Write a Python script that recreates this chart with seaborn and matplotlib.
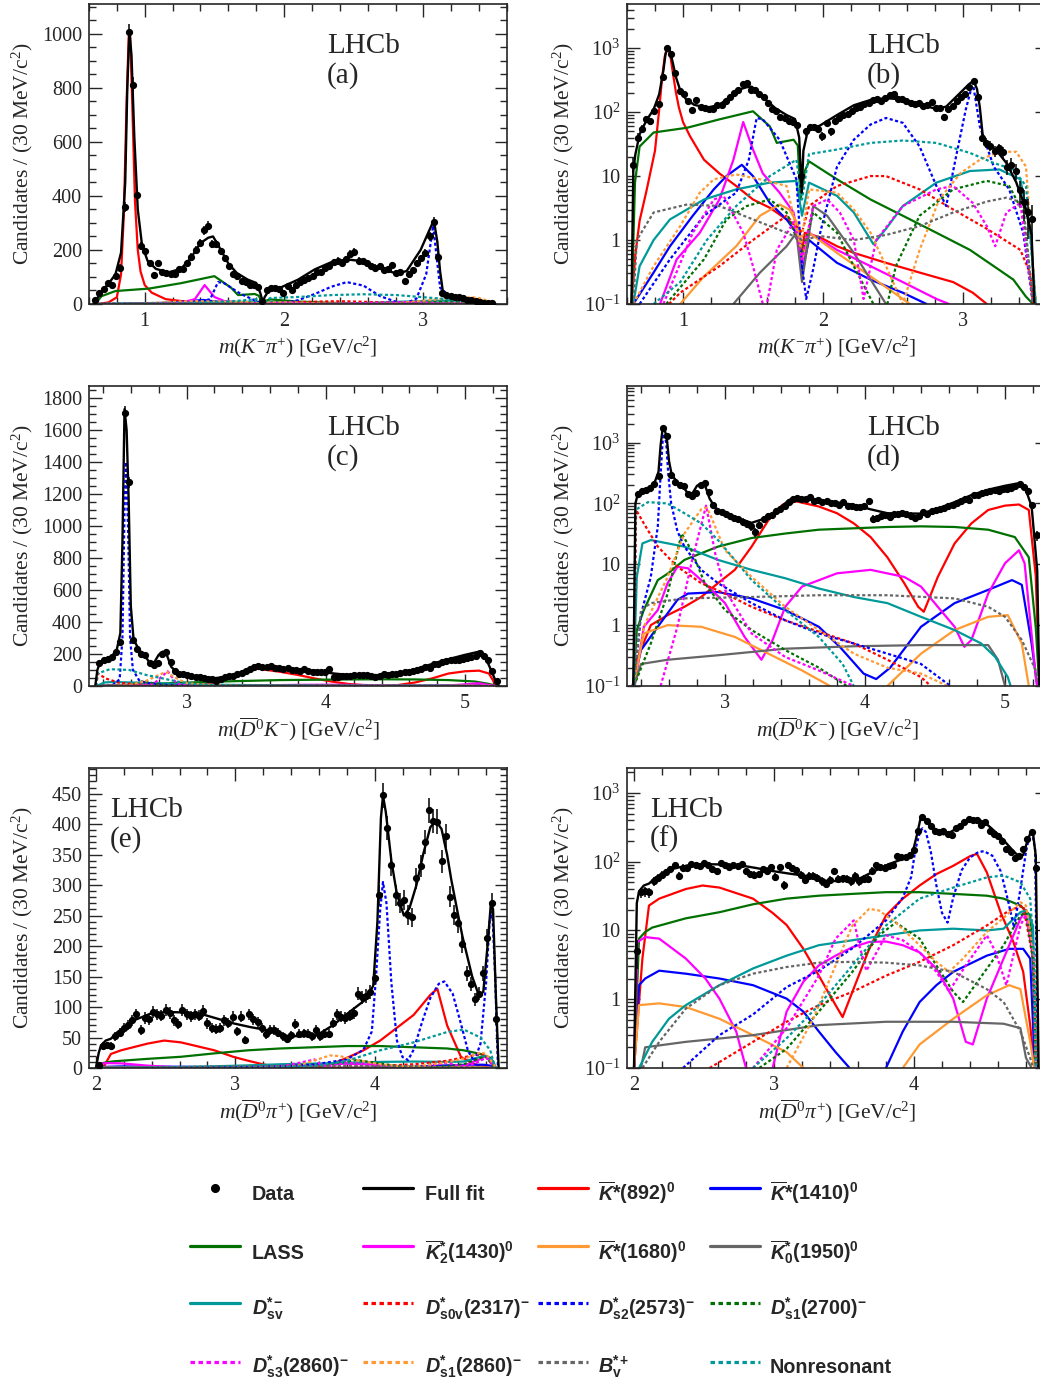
import numpy as np
import matplotlib
matplotlib.use("Agg")
import matplotlib.pyplot as plt
from matplotlib.lines import Line2D
from matplotlib.ticker import MultipleLocator, FixedLocator, FixedFormatter, LogLocator, NullFormatter
import pandas as pd
import seaborn as sns

# ---------------------------------------------------------------- data
BIN_W = 0.03

# m(K- pi+) row
KPI_START = 0.645
KPI_DATA = [15, 40, 55, 78, 72, 105, 135, 360, 1005, 812, 405, 215, 195, 150, 107, 152,
            120, 115, 110, 112, 128, 130, 150, 175, 200, 225, 272, 290, 222, 222, 195, 170,
            140, 110, 105, 85, 80, 72, 70, 62, 10, 50, 58, 58, 55, 42, 68, 50,
            72, 80, 90, 95, 105, 118, 120, 135, 140, 155, 160, 150, 165, 185, 192, 160,
            158, 150, 140, 135, 140, 125, 130, 145, 115, 118, 85, 112, 125, 150, 170, 190,
            250, 305, 175, 40, 33, 30, 25, 27, 24, 14, 15, 12, 6, 4, 2.7, 2.1]
KPI_FIT = [(0.632, 0.1), (0.645, 12), (0.66, 22), (0.69, 45), (0.74, 75), (0.79, 110), (0.83, 190),
           (0.86, 450), (0.875, 800), (0.89, 1010), (0.905, 920), (0.925, 620), (0.95, 350),
           (0.98, 220), (1.02, 160), (1.08, 130), (1.17, 117), (1.26, 130), (1.33, 170), (1.40, 225),
           (1.455, 245), (1.49, 250), (1.53, 215), (1.60, 150), (1.66, 115), (1.74, 90), (1.80, 78),
           (1.83, 40), (1.848, 5.5), (1.86, 25), (1.89, 50), (1.98, 62), (2.10, 90), (2.22, 128),
           (2.34, 155), (2.45, 165), (2.57, 158), (2.69, 132), (2.81, 112), (2.88, 122), (2.98, 200),
           (3.04, 270), (3.075, 310), (3.10, 230), (3.12, 120), (3.14, 45), (3.17, 32), (3.24, 25),
           (3.31, 16), (3.38, 8), (3.45, 3), (3.49, 1.2), (3.51, 0.1)]
KPI_K892 = [(0.632, 0.1), (0.66, 0.6), (0.69, 2.0), (0.74, 6), (0.80, 25), (0.83, 110), (0.85, 330),
            (0.87, 750), (0.885, 990), (0.895, 1000), (0.91, 750), (0.93, 380), (0.95, 200),
            (0.97, 120), (1.0, 70), (1.05, 42), (1.15, 18), (1.26, 11), (1.38, 7), (1.50, 4.3),
            (1.62, 3.2), (1.74, 2.1), (1.82, 1.6), (1.848, 0.63), (1.87, 1.3), (1.98, 1.1),
            (2.10, 0.8), (2.22, 0.63), (2.45, 0.44), (2.69, 0.31), (2.93, 0.22), (3.07, 0.15), (3.17, 0.1)]
KPI_K1410 = [(0.645, 0.1), (0.79, 0.31), (0.907, 0.8), (1.07, 2.4), (1.22, 6.2), (1.31, 10), (1.42, 15),
             (1.50, 10), (1.62, 3.8), (1.74, 2.1), (1.82, 1.2), (1.85, 0.31), (1.90, 1.0), (2.10, 0.44),
             (2.34, 0.24), (2.57, 0.15), (2.74, 0.1)]
KPI_LASS = [(0.633, 0.1), (0.657, 7.9), (0.69, 29), (0.79, 48), (1.03, 57), (1.26, 77), (1.50, 103),
            (1.62, 60), (1.67, 33), (1.79, 37), (1.82, 30), (1.84, 4.3), (1.87, 12), (1.90, 17),
            (2.10, 8.9), (2.34, 4.3), (2.57, 2.4), (2.81, 1.3), (3.05, 0.7), (3.22, 0.39), (3.36, 0.24),
            (3.45, 0.13), (3.50, 0.1)]
KPI_K2_1430 = [(0.836, 0.1), (0.955, 0.5), (1.12, 1.3), (1.26, 4.3), (1.36, 18), (1.43, 70), (1.50, 26),
               (1.57, 11), (1.69, 5.5), (1.79, 2.7), (1.85, 0.44), (1.90, 1.3), (2.10, 0.7), (2.34, 0.39),
               (2.57, 0.22), (2.81, 0.12), (2.90, 0.1)]
KPI_K1680 = [(0.98, 0.1), (1.15, 0.27), (1.38, 0.8), (1.55, 2.4), (1.69, 3.6), (1.76, 3.0), (1.82, 1.8),
             (1.85, 0.5), (1.90, 1.3), (2.10, 0.63), (2.34, 0.27), (2.57, 0.12), (2.62, 0.1)]
KPI_K0_1950 = [(1.36, 0.1), (1.55, 0.31), (1.74, 0.8), (1.81, 1.3), (1.85, 0.22), (1.93, 3.4), (2.03, 2.4),
               (2.22, 0.63), (2.45, 0.1)]
KPI_DSV = [(0.645, 0.1), (0.69, 0.39), (0.79, 1.0), (0.907, 2.1), (1.15, 4.3), (1.38, 6.2), (1.62, 7.9),
           (1.81, 8.4), (1.85, 2.4), (1.90, 7.9), (2.10, 4.9), (2.22, 2.7), (2.36, 0.86), (2.45, 1.5),
           (2.57, 3.4), (2.81, 7.9), (3.05, 12), (3.26, 12.7), (3.41, 8.9), (3.48, 1.3), (3.52, 0.1)]
KPI_DS0V = [(0.90, 0.1), (0.98, 0.15), (1.26, 0.39), (1.50, 1.0), (1.74, 2.4), (1.85, 1.3), (1.90, 3.4),
            (2.10, 7), (2.34, 10), (2.45, 10), (2.69, 6.2), (2.93, 3.0), (3.17, 1.5), (3.41, 0.7),
            (3.48, 0.3), (3.50, 0.1)]
KPI_DS2 = [(0.69, 0.1), (0.907, 0.5), (1.15, 2.4), (1.38, 5.5), (1.47, 18), (1.526, 81), (1.57, 77),
           (1.69, 37), (1.81, 8.9), (1.85, 0.39), (1.88, 0.12), (1.93, 0.35), (1.98, 1.3), (2.10, 14),
           (2.22, 37), (2.34, 64), (2.45, 81), (2.57, 68), (2.69, 29), (2.81, 7), (2.88, 3.4), (2.95, 20),
           (3.02, 110), (3.07, 290), (3.12, 60), (3.22, 14), (3.33, 6.2), (3.43, 1.3), (3.50, 0.1)]
KPI_DS1_2700 = [(0.88, 0.1), (1.15, 0.5), (1.31, 2.1), (1.455, 3.4), (1.62, 4.3), (1.74, 2.7), (1.85, 0.63),
                (1.93, 2.7), (2.10, 1.3), (2.22, 0.39), (2.36, 0.1), (2.42, 0.05), (2.46, 0.1), (2.52, 0.39),
                (2.69, 2.4), (2.93, 6.2), (3.17, 8.4), (3.33, 7), (3.43, 2.7), (3.50, 0.1)]
KPI_DS3_2860 = [(0.86, 0.1), (1.07, 1.3), (1.22, 4.3), (1.29, 4.9), (1.43, 1.3), (1.50, 0.39), (1.57, 0.1),
                (1.58, 0.05), (1.60, 0.1), (1.67, 0.7), (1.79, 1.9), (1.85, 0.5), (1.93, 3.4), (2.03, 4.3),
                (2.12, 2.7), (2.22, 1.0), (2.29, 0.12), (2.38, 1.0), (2.57, 3.4), (2.81, 6.2), (2.93, 7),
                (3.07, 3.8), (3.17, 1.65), (3.23, 0.8), (3.31, 2.7), (3.41, 3.8), (3.50, 0.1)]
KPI_DS1_2860 = [(0.645, 0.1), (0.79, 0.39), (0.98, 1.65), (1.12, 5.5), (1.22, 8.9), (1.38, 10.6), (1.55, 8.9),
                (1.74, 7), (1.84, 0.8), (1.90, 6.2), (2.10, 5.5), (2.22, 3.0), (2.34, 1.3), (2.45, 0.39),
                (2.57, 0.1), (2.69, 0.7), (2.83, 4.3), (2.98, 11), (3.12, 18), (3.26, 24), (3.38, 24),
                (3.45, 14), (3.52, 0.1)]
KPI_BV = [(0.645, 0.1), (0.67, 1.0), (0.79, 2.7), (1.03, 3.6), (1.26, 3.4), (1.50, 2.1), (1.74, 1.3),
          (1.85, 1.0), (1.98, 1.15), (2.22, 1.0), (2.45, 1.2), (2.69, 1.65), (2.93, 2.7), (3.17, 4.0),
          (3.31, 4.6), (3.43, 3.8), (3.50, 0.1)]
KPI_NR = [(0.79, 0.1), (0.98, 0.22), (1.17, 1.0), (1.38, 3.4), (1.62, 10), (1.81, 18), (1.85, 4.3),
          (1.90, 22), (2.10, 26), (2.34, 33), (2.57, 36), (2.81, 33), (3.05, 23), (3.22, 16), (3.36, 12.7),
          (3.45, 7), (3.52, 0.1)]

# m(D0bar K-) row
D0K_START = 2.375
D0K_DATA = [145, 163, 167, 179, 210, 277, 1706, 1272, 288, 229, 200, 194, 142, 131, 146, 200,
            215, 152, 95, 75, 72, 68, 62, 58, 55, 50, 46, 42, 34, 45, 55, 62,
            65, 75, 80, 92, 105, 118, 125, 120, 118, 128, 110, 112, 105, 110, 100, 102,
            96, 105, 92, 90, 88, 86, 90, 108, 56, 58, 62, 65, 60, 68, 66, 70,
            68, 63, 58, 62, 72, 66, 74, 78, 80, 85, 90, 95, 100, 108, 120, 115,
            135, 140, 150, 155, 160, 165, 160, 170, 175, 182, 190, 205, 185, 160, 95, 30]
D0K_FIT = [(2.345, 0.1), (2.36, 100), (2.38, 150), (2.42, 165), (2.46, 180), (2.50, 230), (2.525, 330),
           (2.54, 900), (2.555, 1730), (2.57, 1600), (2.585, 1150), (2.60, 500), (2.62, 290), (2.66, 225),
           (2.70, 190), (2.74, 140), (2.77, 150), (2.80, 195), (2.83, 215), (2.86, 190), (2.89, 120),
           (2.93, 85), (3.0, 68), (3.1, 56), (3.19, 48), (3.29, 57), (3.39, 84), (3.46, 115), (3.55, 125),
           (3.67, 115), (3.80, 104), (3.92, 95), (4.04, 80), (4.16, 69), (4.40, 68), (4.52, 82),
           (4.64, 105), (4.76, 137), (4.88, 168), (5.0, 195), (5.10, 215), (5.14, 190), (5.19, 90),
           (5.23, 8), (5.245, 0.1)]
D0K_K892 = [(2.34, 0.1), (2.37, 0.27), (2.47, 1.0), (2.59, 1.46), (2.71, 2.0), (2.83, 2.9), (2.95, 4.9),
            (3.07, 8.1), (3.19, 19.5), (3.31, 53), (3.41, 95), (3.51, 108), (3.67, 89), (3.80, 69),
            (3.92, 47), (4.04, 28), (4.16, 13), (4.28, 4.9), (4.38, 2.0), (4.42, 1.66), (4.46, 2.8),
            (4.52, 6.2), (4.64, 22), (4.76, 47), (4.88, 78), (5.00, 92), (5.10, 96), (5.17, 78),
            (5.22, 6.3), (5.245, 0.1)]
D0K_K1410 = [(2.34, 0.1), (2.40, 0.39), (2.52, 0.94), (2.66, 2.6), (2.735, 3.3), (2.95, 3.5), (3.19, 2.75),
             (3.43, 1.77), (3.67, 0.94), (3.82, 0.44), (3.99, 0.16), (4.08, 0.13), (4.18, 0.2), (4.40, 0.94),
             (4.64, 2.3), (4.88, 3.8), (5.05, 5.5), (5.12, 4.6), (5.19, 0.5), (5.23, 0.1)]
D0K_LASS = [(2.345, 0.1), (2.37, 0.83), (2.42, 1.77), (2.52, 5.5), (2.59, 7), (2.71, 11.8), (2.95, 19.5),
            (3.19, 27), (3.43, 32), (3.67, 37), (3.92, 39), (4.16, 41), (4.40, 42), (4.64, 41), (4.88, 37),
            (5.07, 28), (5.17, 13), (5.22, 0.9), (5.245, 0.1)]
D0K_K2_1430 = [(2.355, 0.1), (2.42, 0.94), (2.52, 1.77), (2.59, 4.9), (2.66, 9.1), (2.735, 8.6),
               (2.855, 4.9), (3.0, 2.3), (3.14, 0.64), (3.26, 0.27), (3.34, 0.57), (3.43, 2.0), (3.55, 4.3),
               (3.80, 7.1), (4.04, 8.1), (4.28, 6.2), (4.40, 4.3), (4.52, 2.0), (4.64, 0.94), (4.71, 0.44),
               (4.76, 0.57), (4.88, 3.3), (5.0, 10.4), (5.10, 17), (5.14, 10.4), (5.22, 0.14), (5.23, 0.1)]
D0K_K1680 = [(2.345, 0.1), (2.42, 0.73), (2.59, 1.0), (2.83, 0.94), (3.07, 0.64), (3.31, 0.34), (3.55, 0.18),
             (3.75, 0.1), (3.85, 0.04), (4.05, 0.04), (4.16, 0.1), (4.40, 0.34), (4.64, 0.83), (4.88, 1.37),
             (5.02, 1.46), (5.12, 0.5), (5.17, 0.1)]
D0K_K0_1950 = [(2.35, 0.1), (2.40, 0.23), (2.59, 0.27), (2.95, 0.32), (3.43, 0.41), (3.92, 0.45),
               (4.40, 0.47), (4.88, 0.47), (4.95, 0.27), (5.0, 0.1)]
D0K_DSV = [(2.345, 0.1), (2.37, 6.2), (2.41, 22), (2.47, 25), (2.71, 19.5), (2.95, 11.8), (3.19, 8.1),
           (3.43, 5.9), (3.67, 4.0), (3.92, 2.9), (4.16, 2.3), (4.40, 1.37), (4.64, 0.83), (4.83, 0.5),
           (4.93, 0.3), (5.02, 0.14), (5.04, 0.1)]
D0K_DS0V = [(2.35, 0.1), (2.365, 78), (2.42, 47), (2.52, 19.5), (2.66, 9.1), (2.83, 4.9), (3.0, 3.3),
            (3.19, 2.0), (3.43, 1.2), (3.67, 0.78), (3.92, 0.5), (4.16, 0.27), (4.40, 0.14), (4.47, 0.1)]
D0K_DS2 = [(2.35, 0.1), (2.40, 1.5), (2.47, 6.2), (2.52, 42), (2.54, 300), (2.555, 1100), (2.565, 1400),
           (2.58, 1000), (2.595, 300), (2.615, 101), (2.66, 35), (2.71, 19.5), (2.83, 8.1), (2.95, 4.9),
           (3.19, 2.3), (3.43, 1.2), (3.67, 0.73), (3.92, 0.5), (4.16, 0.34), (4.40, 0.23), (4.61, 0.1)]
D0K_DS1_2700 = [(2.35, 0.1), (2.47, 0.5), (2.59, 3.3), (2.69, 32), (2.76, 17), (2.855, 4.9), (3.0, 1.77),
                (3.19, 0.83), (3.43, 0.39), (3.67, 0.2), (3.87, 0.1)]
D0K_DS3_2860 = [(2.54, 0.1), (2.66, 0.94), (2.76, 10.4), (2.865, 92), (2.93, 15), (3.0, 3.8), (3.19, 0.73),
                (3.43, 0.3), (3.67, 0.18), (3.92, 0.1)]
D0K_DS1_2860 = [(2.35, 0.1), (2.42, 0.94), (2.59, 6.2), (2.71, 32), (2.83, 80), (2.87, 85), (2.90, 61),
                (3.0, 17), (3.19, 6.2), (3.43, 2.0), (3.67, 0.83), (3.92, 0.34), (4.16, 0.2), (4.40, 0.16),
                (4.59, 0.1)]
D0K_BV = [(2.35, 0.1), (2.40, 1.77), (2.47, 2.3), (2.71, 2.75), (3.19, 2.9), (3.67, 3.1), (4.16, 3.1),
          (4.64, 2.75), (4.88, 2.0), (5.0, 1.37), (5.12, 0.57), (5.22, 0.18), (5.245, 0.1)]
D0K_NR = [(2.35, 0.1), (2.36, 78), (2.45, 105), (2.59, 100), (2.71, 69), (2.83, 47), (2.95, 25),
          (3.07, 11.8), (3.19, 5.5), (3.43, 1.77), (3.67, 0.64), (3.84, 0.23), (3.92, 0.1)]

# m(D0bar pi+) row
D0PI_START = 2.02
D0PI_DATA = [5, 36, 37, 36, 52, 58, 65, 70, 78, 88, 62, 82, 80, 92, 88, 86,
             95, 90, 78, 72, 95, 88, 85, 88, 86, 94, 73, 66, 64, 66, 78, 74,
             84, 60, 84, 46, 88, 80, 75, 65, 55, 62, 62, 58, 52, 48, 54, 72,
             56, 57, 56, 52, 62, 52, 56, 56, 74, 88, 84, 82, 86, 90, 122, 116,
             118, 125, 148, 283, 447, 393, 333, 283, 271, 275, 251, 247, 311, 331, 371, 423,
             405, 404, 339, 380, 281, 251, 237, 203, 155, 138, 113, 122, 155, 214, 271, 80]
D0PI_FIT = [(2.0, 0.1), (2.02, 25), (2.036, 37), (2.07, 45), (2.107, 48), (2.155, 59), (2.27, 78),
            (2.39, 89), (2.51, 92), (2.63, 91), (2.75, 89), (2.87, 81), (2.99, 73), (3.11, 67), (3.23, 62),
            (3.35, 53), (3.46, 52), (3.58, 53), (3.70, 70), (3.82, 92), (3.94, 113), (3.99, 135),
            (4.02, 240), (4.045, 410), (4.06, 447), (4.08, 420), (4.12, 340), (4.16, 285), (4.21, 250),
            (4.25, 262), (4.30, 300), (4.35, 352), (4.40, 395), (4.44, 405), (4.48, 392), (4.52, 350),
            (4.55, 309), (4.60, 250), (4.63, 216), (4.70, 150), (4.75, 118), (4.78, 125), (4.81, 200),
            (4.835, 272), (4.85, 260), (4.87, 120), (4.89, 0.1)]
D0PI_K892 = [(2.0, 0.1), (2.06, 3.9), (2.107, 23), (2.18, 29), (2.37, 40), (2.49, 45), (2.61, 42),
             (2.85, 29), (2.99, 18), (3.09, 12), (3.21, 5.4), (3.32, 2.2), (3.44, 0.82), (3.49, 0.55),
             (3.56, 1.28), (3.68, 5.4), (3.80, 16.5), (3.92, 29), (4.04, 45), (4.16, 66), (4.28, 87),
             (4.40, 120), (4.45, 130), (4.52, 70), (4.62, 18), (4.71, 6.8), (4.78, 2.5), (4.83, 0.42),
             (4.86, 0.1)]
D0PI_K1410 = [(2.0, 0.1), (2.036, 1.6), (2.08, 2.0), (2.18, 2.6), (2.37, 2.35), (2.61, 2.0), (2.85, 1.6),
              (3.09, 1.02), (3.21, 0.66), (3.32, 0.34), (3.44, 0.17), (3.54, 0.1), (3.62, 0.04),
              (3.74, 0.04), (3.80, 0.1), (3.92, 0.34), (4.04, 0.91), (4.16, 1.6), (4.28, 2.5), (4.52, 4.3),
              (4.68, 5.4), (4.78, 5.4), (4.83, 3.9), (4.86, 0.14), (4.87, 0.1)]
D0PI_LASS = [(2.0, 0.1), (2.036, 7.6), (2.08, 9.5), (2.13, 11), (2.37, 15), (2.61, 18.4), (2.85, 24),
             (3.09, 29), (3.32, 32), (3.56, 34), (3.80, 36), (4.04, 36), (4.28, 34), (4.52, 32), (4.64, 29),
             (4.76, 23), (4.83, 16.5), (4.86, 1.28), (4.875, 0.1)]
D0PI_K2_1430 = [(2.0, 0.1), (2.024, 6.8), (2.08, 8.0), (2.18, 7.6), (2.37, 3.9), (2.51, 2.0), (2.61, 1.02),
                (2.73, 0.34), (2.80, 0.1), (2.86, 0.04), (2.93, 0.04), (2.99, 0.1), (3.09, 0.66), (3.21, 1.8),
                (3.32, 3.1), (3.44, 4.3), (3.56, 5.7), (3.68, 6.8), (3.80, 6.9), (3.92, 6.1), (4.04, 4.8),
                (4.16, 2.8), (4.28, 1.02), (4.37, 0.24), (4.42, 0.22), (4.52, 1.02), (4.64, 3.9),
                (4.76, 14.8), (4.80, 20), (4.85, 3.9), (4.87, 0.1)]
D0PI_K1680 = [(2.0, 0.1), (2.036, 0.82), (2.18, 0.87), (2.37, 0.77), (2.61, 0.52), (2.85, 0.3), (3.09, 0.17),
              (3.21, 0.1), (3.35, 0.04), (3.80, 0.04), (3.92, 0.1), (4.04, 0.22), (4.28, 0.52), (4.52, 1.14),
              (4.68, 1.6), (4.76, 1.4), (4.83, 0.24), (4.86, 0.1)]
D0PI_K0_1950 = [(2.05, 0.1), (2.08, 0.2), (2.37, 0.24), (2.85, 0.3), (3.32, 0.42), (3.80, 0.47),
                (4.28, 0.47), (4.64, 0.44), (4.76, 0.38), (4.80, 0.14), (4.84, 0.1)]
D0PI_DSV = [(2.036, 0.1), (2.13, 0.24), (2.25, 0.52), (2.37, 0.82), (2.61, 1.6), (2.85, 2.8), (3.09, 4.3),
            (3.32, 6.1), (3.56, 7.2), (3.80, 8.5), (4.04, 10), (4.28, 10.6), (4.52, 10), (4.64, 10.6),
            (4.76, 18.4), (4.80, 19.5), (4.85, 11.8), (4.87, 0.1)]
D0PI_DS0V = [(2.54, 0.1), (2.85, 0.24), (3.09, 0.47), (3.32, 0.82), (3.56, 1.28), (3.80, 2.2), (4.04, 3.5),
             (4.28, 6.1), (4.52, 11.8), (4.68, 19.5), (4.78, 23), (4.85, 3.9), (4.87, 0.1)]
D0PI_DS2 = [(2.35, 0.1), (2.61, 0.3), (2.85, 0.6), (3.09, 1.5), (3.32, 2.6), (3.56, 5.5), (3.80, 14),
            (3.92, 30), (3.98, 60), (4.01, 150), (4.04, 260), (4.06, 305), (4.085, 270), (4.12, 140),
            (4.16, 45), (4.20, 18), (4.24, 13), (4.28, 30), (4.34, 75), (4.40, 115), (4.46, 138),
            (4.50, 142), (4.56, 122), (4.62, 72), (4.67, 28), (4.715, 11), (4.76, 40), (4.80, 140),
            (4.825, 240), (4.845, 255), (4.865, 150), (4.885, 0.1)]
D0PI_DS1_2700 = [(2.895, 0.1), (3.09, 0.19), (3.32, 0.66), (3.56, 2.5), (3.75, 8.5), (3.87, 13), (4.04, 7.6),
                 (4.16, 3.1), (4.28, 1.28), (4.35, 0.91), (4.47, 2.0), (4.64, 6.1), (4.76, 16.5),
                 (4.80, 18.4), (4.85, 3.9), (4.87, 0.1)]
D0PI_DS3_2860 = [(2.85, 0.1), (3.09, 0.38), (3.32, 2.2), (3.44, 7.6), (3.57, 14), (3.61, 6), (3.66, 2.6),
                 (3.80, 8.5), (3.92, 7.2), (4.04, 4.8), (4.16, 2.5), (4.25, 1.3), (4.37, 3.1), (4.52, 8.5),
                 (4.58, 5.0), (4.66, 1.6), (4.76, 11.8), (4.80, 17), (4.86, 3.9), (4.87, 0.1)]
D0PI_DS1_2860 = [(3.09, 0.1), (3.28, 0.52), (3.44, 3.1), (3.56, 11.8), (3.68, 20.6), (3.75, 19.5),
                 (3.87, 13), (4.04, 6.1), (4.16, 3.5), (4.25, 2.5), (4.35, 3.9), (4.52, 9.5), (4.66, 16.5),
                 (4.76, 25.7), (4.80, 23), (4.86, 3.9), (4.87, 0.1)]
D0PI_BV = [(2.06, 0.1), (2.18, 0.24), (2.37, 0.73), (2.61, 1.6), (2.85, 2.35), (3.09, 2.94), (3.32, 3.4),
           (3.56, 3.5), (3.80, 3.4), (4.04, 3.1), (4.28, 2.5), (4.52, 1.4), (4.64, 0.91), (4.76, 0.34),
           (4.83, 0.14), (4.85, 0.1)]
D0PI_NR = [(2.85, 0.1), (3.09, 0.27), (3.32, 0.82), (3.56, 3.1), (3.80, 11.8), (4.04, 29), (4.28, 42),
           (4.52, 59), (4.64, 63), (4.76, 50), (4.83, 29), (4.86, 3.9), (4.87, 0.1)]

# legend, row by row as in the figure
LEGEND_LABELS = [
    "Data", "Full fit", r"$\mathsf{\overline{K}}$*(892)$^{\mathbf{0}}$", r"$\mathsf{\overline{K}}$*(1410)$^{\mathbf{0}}$",
    "LASS", r"$\mathsf{\overline{K}}_{\mathbf{2}}^{\mathbf{*}}$(1430)$^{\mathbf{0}}$",
    r"$\mathsf{\overline{K}}$*(1680)$^{\mathbf{0}}$", r"$\mathsf{\overline{K}}_{\mathbf{0}}^{\mathbf{*}}$(1950)$^{\mathbf{0}}$",
    r"$\mathsf{D}_{\mathbf{sv}}^{\mathbf{*-}}$", r"$\mathsf{D}_{\mathbf{s0v}}^{\mathbf{*}}$(2317)$^{\mathbf{-}}$",
    r"$\mathsf{D}_{\mathbf{s2}}^{\mathbf{*}}$(2573)$^{\mathbf{-}}$", r"$\mathsf{D}_{\mathbf{s1}}^{\mathbf{*}}$(2700)$^{\mathbf{-}}$",
    r"$\mathsf{D}_{\mathbf{s3}}^{\mathbf{*}}$(2860)$^{\mathbf{-}}$", r"$\mathsf{D}_{\mathbf{s1}}^{\mathbf{*}}$(2860)$^{\mathbf{-}}$",
    r"$\mathsf{B}_{\mathbf{v}}^{\mathbf{*+}}$", "Nonresonant",
]

# --------------------------------------------------------------- style
RED, BLUE, GREEN, MAGENTA = "#ff0000", "#0000ff", "#007000", "#ff00ff"
ORANGE, GREY, TEAL = "#ff9933", "#666666", "#009999"
SOLID, DOT = "-", (0, (1.4, 1.1))

COMP_STYLE = [
    ("K892", RED, SOLID), ("K1410", BLUE, SOLID), ("LASS", GREEN, SOLID), ("K2_1430", MAGENTA, SOLID),
    ("K1680", ORANGE, SOLID), ("K0_1950", GREY, SOLID), ("DSV", TEAL, SOLID), ("DS0V", RED, DOT),
    ("DS2", BLUE, DOT), ("DS1_2700", GREEN, DOT), ("DS3_2860", MAGENTA, DOT), ("DS1_2860", ORANGE, DOT),
    ("BV", GREY, DOT), ("NR", TEAL, DOT),
]

ROWS = [
    dict(prefix="KPI", start=KPI_START, data=KPI_DATA, fit=KPI_FIT, xlim=(0.6, 3.6),
         lin_top=1110, lin_major=200, lin_minor=50, log_top=4900, tag=("(a)", "(b)"),
         text_x=(0.569, 0.571), xlabel=r"$m(K^{-}\pi^{+})$ [GeV/c$^{2}$]"),
    dict(prefix="D0K", start=D0K_START, data=D0K_DATA, fit=D0K_FIT, xlim=(2.3, 5.3),
         lin_top=1875, lin_major=200, lin_minor=50, log_top=8500, tag=("(c)", "(d)"),
         text_x=(0.569, 0.571), xlabel=r"$m(\overline{D}^{0}K^{-})$ [GeV/c$^{2}$]"),
    dict(prefix="D0PI", start=D0PI_START, data=D0PI_DATA, fit=D0PI_FIT, xlim=(1.95, 4.95),
         lin_top=492, lin_major=50, lin_minor=10, log_top=2300, tag=("(e)", "(f)"),
         text_x=(0.05, 0.055), xlabel=r"$m(\overline{D}^{0}\pi^{+})$ [GeV/c$^{2}$]"),
]

# --------------------------------------------------------------- plot
sns.set_style("ticks")
plt.rcParams.update({
    "font.family": ["Liberation Serif", "DejaVu Serif"],
    "mathtext.fontset": "custom",
    "mathtext.rm": "Liberation Serif",
    "mathtext.it": "Liberation Serif:italic",
    "mathtext.bf": "Liberation Sans:bold",
    "mathtext.sf": "Liberation Sans:bold:italic",
    "axes.linewidth": 1.2,
})

fig = plt.figure(figsize=(10.4, 13.82), dpi=100)
W, H = 1040, 1382
row_tops = [4, 386, 768]
col_lefts = [89, 627]
col_widths = [418, 420]


def draw_curves(ax, row):
    g = globals()
    for key, color, ls in COMP_STYLE:
        pts = pd.DataFrame(g[f"{row['prefix']}_{key}"], columns=["m", "n"])
        sns.lineplot(data=pts, x="m", y="n", ax=ax, color=color, linestyle=ls, lw=1.6,
                     estimator=None, sort=False, legend=False)
    fit = pd.DataFrame(row["fit"], columns=["m", "n"])
    sns.lineplot(data=fit, x="m", y="n", ax=ax, color="black", lw=1.7, estimator=None,
                 sort=False, legend=False)
    counts = np.asarray(row["data"], dtype=float)
    centers = row["start"] + BIN_W * np.arange(len(counts))
    ax.errorbar(centers, counts, yerr=np.sqrt(counts), fmt="o", color="black", ms=4.2,
                elinewidth=1.1, capsize=0, zorder=5)


for r, row in enumerate(ROWS):
    for c in range(2):
        left = col_lefts[c] / W
        bottom = 1 - (row_tops[r] + 300) / H
        ax = fig.add_axes([left, bottom, col_widths[c] / W, 300 / H])
        draw_curves(ax, row)
        ax.set_xlim(*row["xlim"])
        ax.xaxis.set_major_locator(MultipleLocator(1))
        ax.xaxis.set_minor_locator(MultipleLocator(0.2))
        if c == 0:
            ax.set_ylim(0, row["lin_top"])
            ax.yaxis.set_major_locator(MultipleLocator(row["lin_major"]))
            ax.yaxis.set_minor_locator(MultipleLocator(row["lin_minor"]))
        else:
            ax.set_yscale("log")
            ax.set_ylim(0.1, row["log_top"])
            ax.yaxis.set_major_locator(FixedLocator([0.1, 1, 10, 100, 1000]))
            ax.yaxis.set_major_formatter(FixedFormatter([r"$10^{-1}$", "1", "10", r"$10^{2}$", r"$10^{3}$"]))
            ax.yaxis.set_minor_locator(LogLocator(base=10, subs=np.arange(2, 10), numticks=20))
            ax.yaxis.set_minor_formatter(NullFormatter())
        ax.tick_params(which="both", direction="in", top=True, right=True, labelsize=14.5, width=1.0)
        ax.tick_params(which="major", length=9)
        ax.tick_params(which="minor", length=5)
        ax.tick_params(axis="x", pad=6)
        ax.tick_params(axis="y", pad=5)
        ax.set_xlabel(row["xlabel"], fontsize=15.5, va="center")
        ax.xaxis.set_label_coords(0.5, -0.145)
        ax.set_ylabel("Candidates / (30 MeV/c$^{2}$)", fontsize=15.5, va="center")
        ax.yaxis.set_label_coords(-0.160 if c == 0 else -0.152, 0.5)
        tx = row["text_x"][c]
        ax.text(tx, 0.836, "LHCb", transform=ax.transAxes, fontsize=21, va="baseline")
        ax.text(tx, 0.737, row["tag"][c], transform=ax.transAxes, fontsize=21, va="baseline")

# legend drawn entry by entry on a fixed 4x4 grid (pixel positions of the figure)
handle_x = [190, 363, 538, 710]
text_x = [252, 425, 598, 770]
line_y = [1188, 1246, 1303, 1362]
base_y = [1200, 1259, 1315, 1373]
styles = [("data", "black", SOLID), ("line", "black", SOLID)] + [("line", col, ls) for _, col, ls in COMP_STYLE]
for k, label in enumerate(LEGEND_LABELS):
    rr, cc = divmod(k, 4)
    kind, col, ls = styles[k]
    y = 1 - line_y[rr] / H
    if kind == "data":
        fig.add_artist(Line2D([(handle_x[cc] + 25) / W], [y], marker="o", ls="none", color="black", ms=5.5))
    else:
        fig.add_artist(Line2D([handle_x[cc] / W, (handle_x[cc] + 50) / W], [y, y], color=col,
                              ls=ls, lw=2.3))
    fig.text(text_x[cc] / W, 1 - base_y[rr] / H, label, family="Liberation Sans", weight="bold",
             fontsize=14.2, va="baseline", ha="left")

fig.savefig("out.png", dpi=100)
